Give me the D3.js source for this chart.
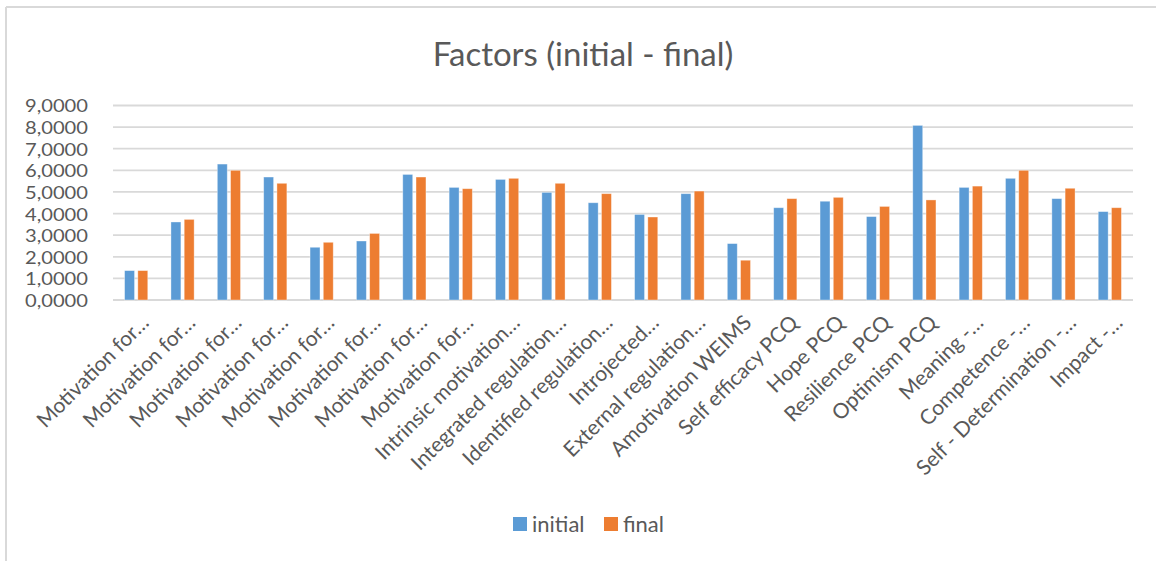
<!DOCTYPE html>
<html>
<head>
<meta charset="utf-8">
<script src="https://cdn.jsdelivr.net/npm/d3@7/dist/d3.min.js"></script>
<style>
  html, body { margin: 0; padding: 0; background: #fff; }
  svg { display: block; font-family: Lato, "Open Sans", sans-serif; }
</style>
</head>
<body>
<svg id="chart" width="1156" height="561"></svg>
<script>
// Factor names (as truncated on the axis)
const categories = [
  "Motivation for…", "Motivation for…", "Motivation for…", "Motivation for…",
  "Motivation for…", "Motivation for…", "Motivation for…", "Motivation for…",
  "Intrinsic motivation…", "Integrated regulation…", "Identified regulation…",
  "Introjected…", "External regulation…", "Amotivation WEIMS",
  "Self efficacy PCQ", "Hope PCQ", "Resilience PCQ", "Optimism PCQ",
  "Meaning -…", "Competence -…", "Self - Determination -…", "Impact -…"
];

const initialValues = [1.36, 3.61, 6.29, 5.69, 2.44, 2.73, 5.81, 5.21,
  5.58, 4.98, 4.50, 3.96, 4.92, 2.61, 4.27, 4.57, 3.86, 8.08, 5.21, 5.63, 4.69, 4.09];
const finalValues = [1.36, 3.73, 6.00, 5.40, 2.67, 3.08, 5.69, 5.15,
  5.63, 5.40, 4.92, 3.84, 5.04, 1.84, 4.69, 4.75, 4.33, 4.63, 5.27, 6.00, 5.17, 4.27];

const seriesNames = ["initial", "final"];
const seriesColors = ["#5B9BD5", "#ED7D31"];
const yTicks = [0, 1, 2, 3, 4, 5, 6, 7, 8, 9];

const svg = d3.select("#chart");
const W = 1156, H = 561;
const plot = { left: 113, right: 1133, top: 105.5, bottom: 300 };
const textColor = "#595959";

// chart frame (top and left edges)
svg.append("line").attr("x1", 6).attr("x2", W).attr("y1", 7).attr("y2", 7)
  .attr("stroke", "#d9d9d9").attr("stroke-width", 2);
svg.append("line").attr("x1", 6).attr("x2", 6).attr("y1", 7).attr("y2", H)
  .attr("stroke", "#d9d9d9").attr("stroke-width", 2);

// title
svg.append("text")
  .attr("x", 583).attr("y", 66)
  .attr("text-anchor", "middle")
  .attr("font-size", 33)
  .attr("fill", textColor)
  .text("Factors (initial - final)");

const idx = d3.range(categories.length);
const x0 = d3.scaleBand().domain(idx).range([plot.left, plot.right])
  .paddingInner(0.5).paddingOuter(0.25);
const x1 = d3.scaleBand().domain(seriesNames).range([0, x0.bandwidth()])
  .paddingInner(0.25);
const y = d3.scaleLinear().domain([0, 9]).range([plot.bottom, plot.top]);

// gridlines
svg.append("g").selectAll("line").data(yTicks).join("line")
  .attr("x1", plot.left).attr("x2", plot.right)
  .attr("y1", d => y(d)).attr("y2", d => y(d))
  .attr("stroke", "#d9d9d9").attr("stroke-width", 1.8);

// y axis labels (compact, widened to the axis label width)
const yAxis = d3.axisLeft(y).tickValues(yTicks).tickSize(0).tickPadding(0)
  .tickFormat(d => d3.format(".4f")(d).replace(".", ","));
const yg = svg.append("g").attr("transform", "translate(88,0)").call(yAxis);
yg.select(".domain").remove();
yg.selectAll("text").attr("font-size", 18).attr("fill", textColor)
  .attr("font-family", "Lato, 'Open Sans', sans-serif").attr("dy", "0.36em")
  .attr("textLength", 63).attr("lengthAdjust", "spacingAndGlyphs");

// bars
const seriesData = [initialValues, finalValues];
const groups = svg.append("g").selectAll("g").data(idx).join("g")
  .attr("transform", i => `translate(${x0(i)},0)`);
groups.selectAll("rect")
  .data(i => seriesNames.map((s, k) => ({ s, k, v: seriesData[k][i] })))
  .join("rect")
  .attr("x", d => x1(d.s))
  .attr("width", x1.bandwidth())
  .attr("y", d => y(d.v))
  .attr("height", d => y(0) - y(d.v))
  .attr("fill", d => seriesColors[d.k])
  .attr("stroke", "#ffffff").attr("stroke-opacity", 0.45).attr("stroke-width", 0.8);

// x axis labels, rotated
svg.append("g").selectAll("text").data(idx).join("text")
  .attr("transform", i => `translate(${x0(i) + x0.bandwidth() / 2 + 14},324) rotate(-45)`)
  .attr("text-anchor", "end")
  .attr("font-size", 21)
  .attr("fill", textColor)
  .text(i => categories[i]);

// legend
const legend = svg.append("g");
const legendX = [513, 604];
seriesNames.forEach((s, k) => {
  legend.append("rect").attr("x", legendX[k]).attr("y", 517)
    .attr("width", 14).attr("height", 14).attr("fill", seriesColors[k]);
  legend.append("text").attr("x", legendX[k] + 19).attr("y", 532)
    .attr("font-size", 22).attr("fill", textColor).text(s);
});
</script>
</body>
</html>
